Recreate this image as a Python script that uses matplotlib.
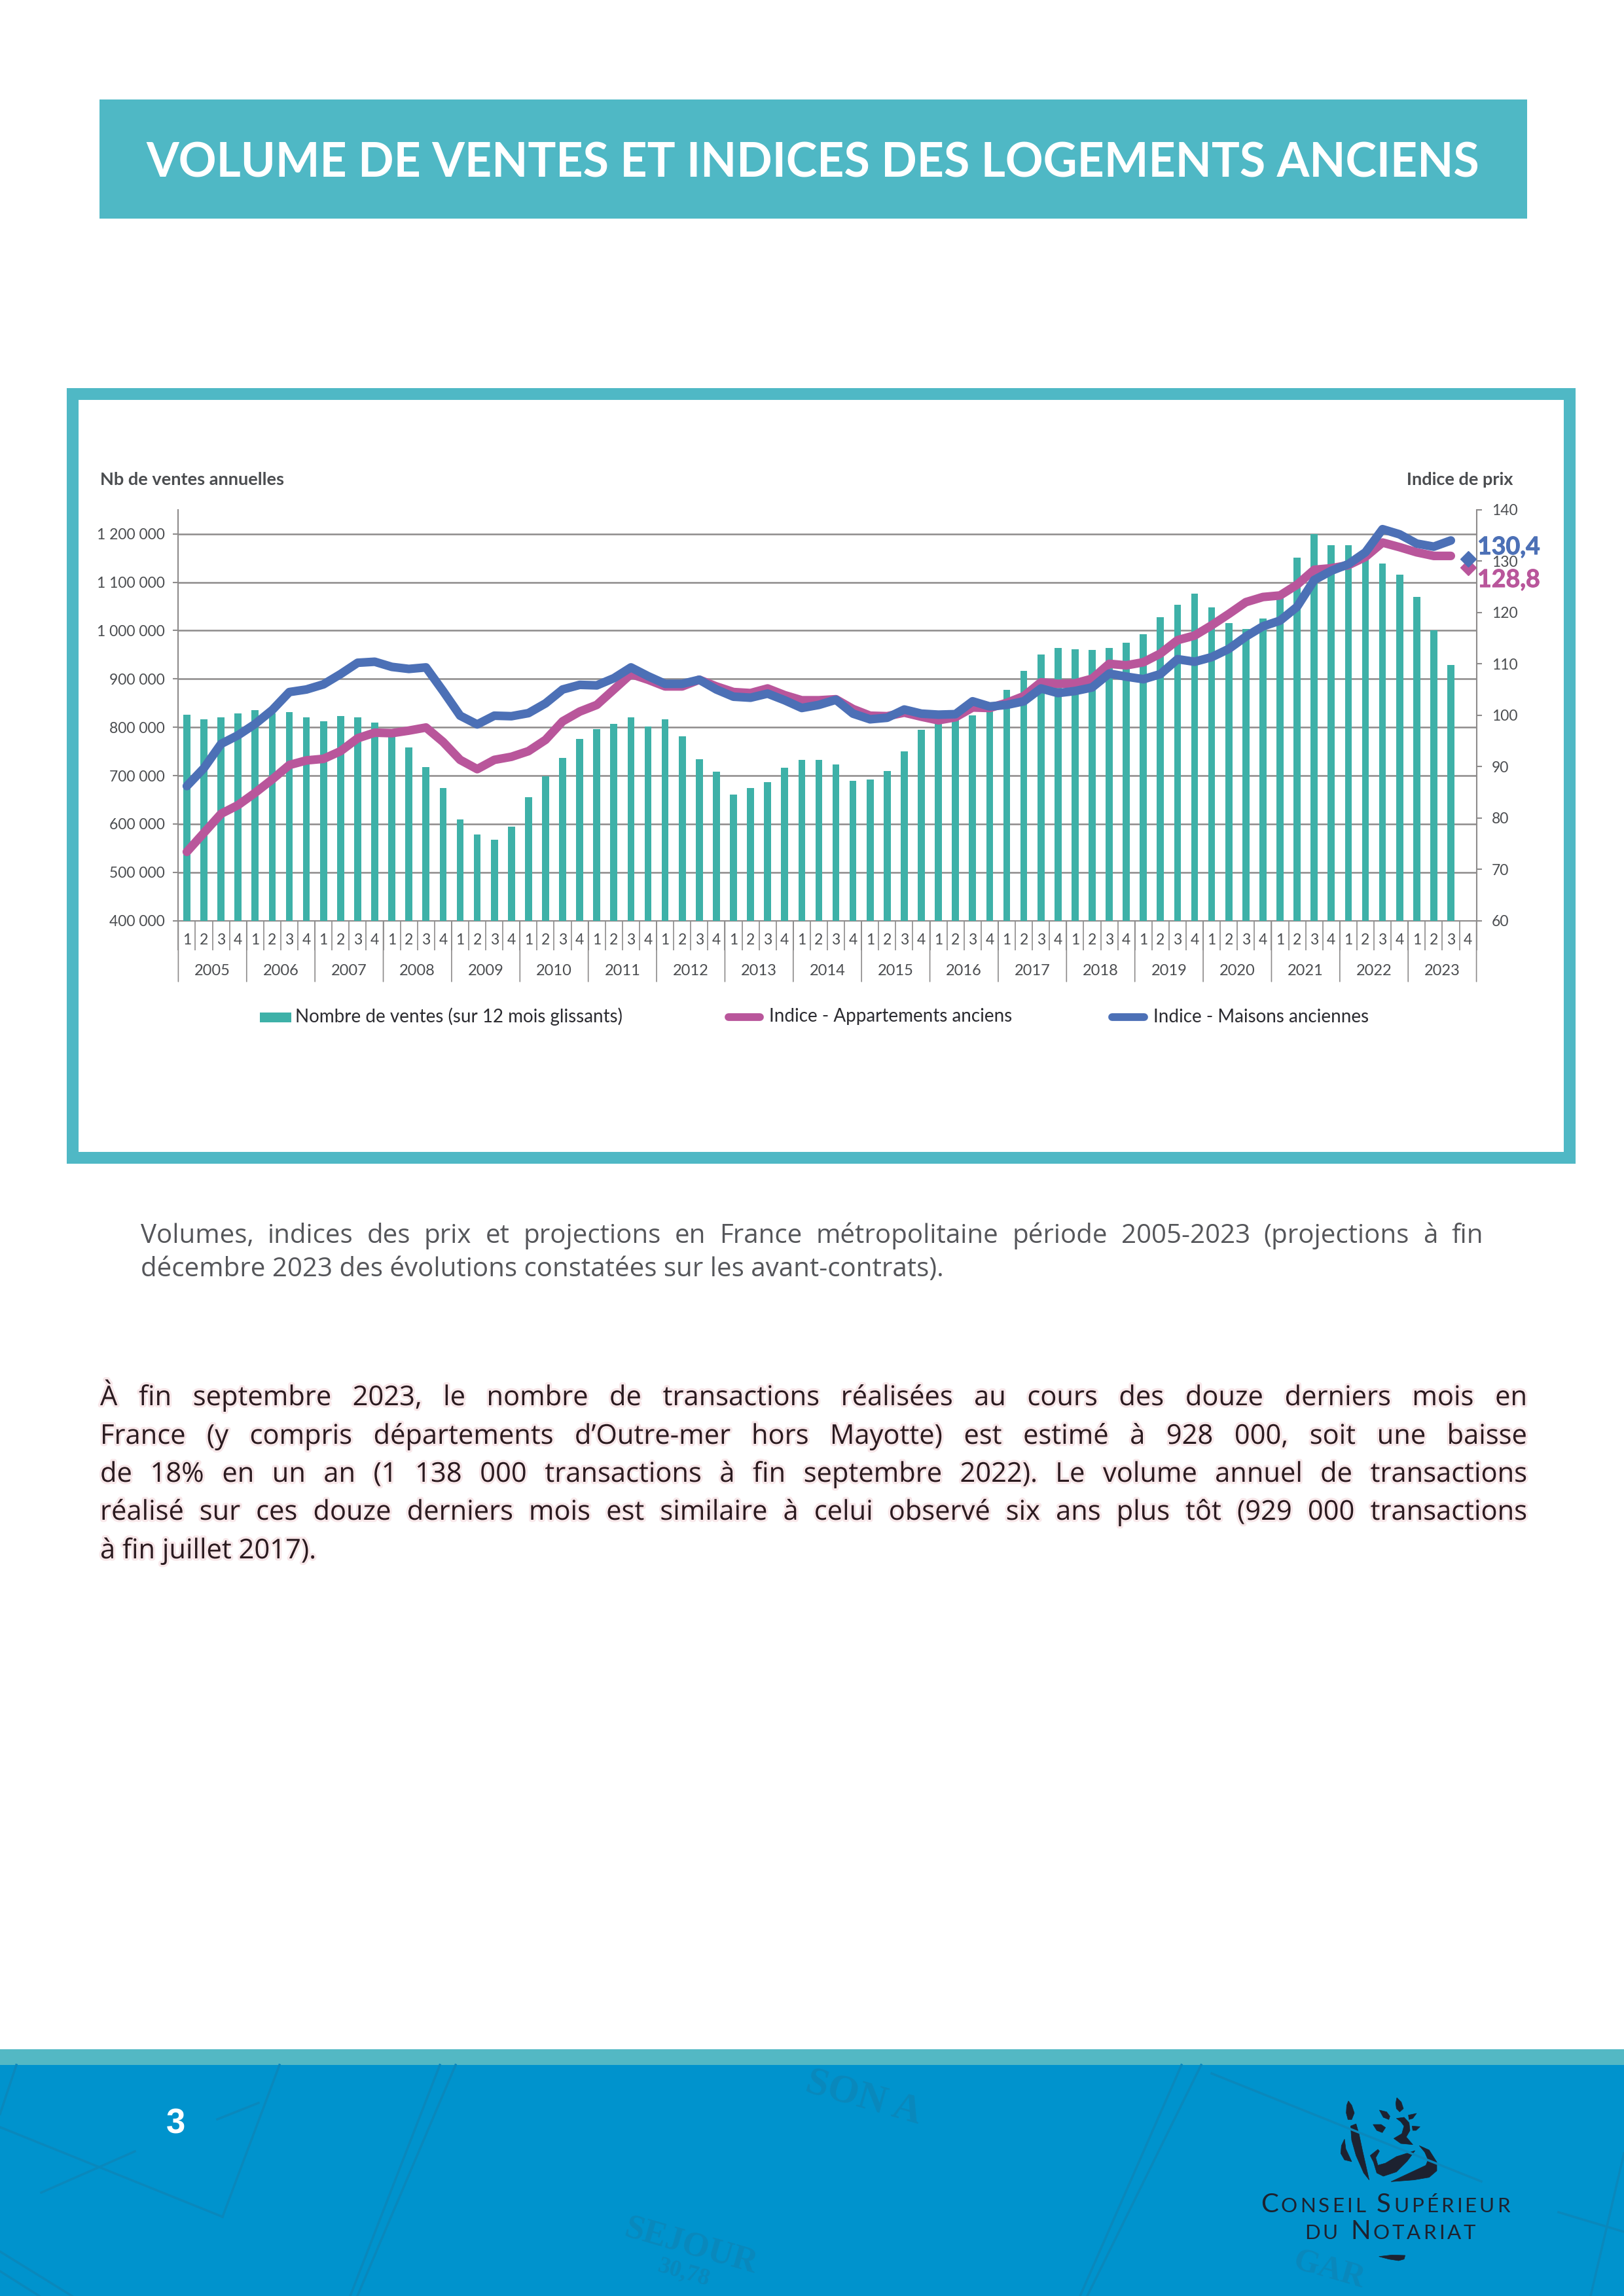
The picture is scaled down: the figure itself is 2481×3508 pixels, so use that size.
import numpy as np
import matplotlib
matplotlib.use('Agg')
import matplotlib.pyplot as plt
import matplotlib.patheffects as pe
from matplotlib.patches import Rectangle, Polygon

plt.rcParams['font.family'] = ['Lato', 'DejaVu Sans']

# Data
years = list(range(2005, 2024))
quarters = ['1', '2', '3', '4']

# 12 month rolling sales, one value per quarter (2023 Q4 missing)
ventes = [826, 817, 821, 829, 835, 828, 832, 821, 813, 823, 821, 810,
          790, 758, 717, 674, 610, 578, 568, 595, 656, 699, 737, 776,
          796, 807, 821, 801, 817, 781, 734, 708, 661, 674, 687, 716,
          733, 733, 723, 689, 692, 710, 750, 795, 807, 817, 824, 840,
          877, 917, 950, 964, 961, 960, 964, 975, 992, 1027, 1054, 1077,
          1048, 1015, 1003, 1025, 1069, 1151, 1200, 1176, 1177, 1151, 1139, 1115,
          1070, 1001, 929]

indice_appart = [73.4, 77.1, 80.8, 82.5, 84.9, 87.5, 90.3, 91.2, 91.5, 93.0, 95.5, 96.6,
                 96.5, 97.0, 97.6, 94.8, 91.3, 89.5, 91.3, 91.9, 93.0, 95.2, 98.8, 100.7,
                 102.0, 105.0, 108.0, 106.9, 105.6, 105.6, 106.9, 105.6, 104.5, 104.3, 105.2, 103.9,
                 102.9, 102.9, 103.1, 101.2, 99.9, 99.8, 100.5, 99.7, 99.0, 99.6, 101.5, 101.4,
                 102.4, 103.7, 106.4, 106.1, 106.2, 107.1, 110.0, 109.7, 110.3, 112.0, 114.6, 115.5,
                 117.5, 119.7, 122.0, 123.0, 123.3, 125.4, 128.3, 128.6, 129.2, 130.8, 133.6, 132.7,
                 131.7, 131.0, 131.0]

indice_maisons = [86.2, 89.7, 94.4, 96.1, 98.3, 101.0, 104.5, 105.0, 106.0, 108.0, 110.2, 110.4,
                  109.4, 109.0, 109.3, 104.7, 99.9, 98.2, 99.9, 99.8, 100.4, 102.3, 105.0, 105.9,
                  105.8, 107.2, 109.3, 107.6, 106.1, 106.1, 106.9, 105.0, 103.6, 103.4, 104.2, 102.9,
                  101.4, 102.0, 103.0, 100.3, 99.2, 99.5, 101.1, 100.3, 100.1, 100.2, 102.7, 101.7,
                  102.0, 102.7, 105.2, 104.3, 104.7, 105.4, 108.1, 107.5, 107.0, 108.0, 110.9, 110.4,
                  111.3, 112.9, 115.3, 117.3, 118.4, 121.1, 126.3, 128.1, 129.4, 131.7, 136.2, 135.2,
                  133.4, 132.8, 134.0]

projection_maisons = 130.4
projection_appart = 128.8

left_ticks = [400, 500, 600, 700, 800, 900, 1000, 1100, 1200]
left_labels = ['400 000', '500 000', '600 000', '700 000', '800 000', '900 000',
               '1 000 000', '1 100 000', '1 200 000']
right_ticks = [60, 70, 80, 90, 100, 110, 120, 130, 140]

titre = 'VOLUME DE VENTES ET INDICES DES LOGEMENTS ANCIENS'
legende = ['Nombre de ventes (sur 12 mois glissants)', 'Indice - Appartements anciens',
           'Indice - Maisons anciennes']
legende_source = ['Volumes, indices des prix et projections en France métropolitaine période 2005-2023 (projections à fin',
                  'décembre 2023 des évolutions constatées sur les avant-contrats).']
paragraphe = ['À fin septembre 2023, le nombre de transactions réalisées au cours des douze derniers mois en',
              'France (y compris départements d’Outre-mer hors Mayotte) est estimé à 928 000, soit une baisse',
              'de 18% en un an (1 138 000 transactions à fin septembre 2022). Le volume annuel de transactions',
              'réalisé sur ces douze derniers mois est similaire à celui observé six ans plus tôt (929 000 transactions',
              'à fin juillet 2017).']

TEAL = '#3eb1a8'
BLUE = '#4c70b6'
PINK = '#b9569b'
FRAME = '#4fb8c5'
GRID = '#8d8b8b'
LABEL = '#4b4d50'

W, H = 2481, 3508
fig = plt.figure(figsize=(W / 100, H / 100), dpi=100, facecolor='white')

# page background axes, one unit = one pixel
bg = fig.add_axes([0, 0, 1, 1])
bg.set_xlim(0, W)
bg.set_ylim(H, 0)
bg.axis('off')
renderer = fig.canvas.get_renderer()


def text_width(s, **kw):
    t = bg.text(0, 0, s, **kw)
    w = t.get_window_extent(renderer).width
    t.remove()
    return w


def justified(line, x0, x1, y, **kw):
    words = line.split(' ')
    widths = [text_width(w, **kw) for w in words]
    gap = (x1 - x0 - sum(widths)) / (len(words) - 1)
    x = x0
    for word, w in zip(words, widths):
        bg.text(x, y, word, ha='left', va='baseline', **kw)
        x += w + gap


def small_caps(x, y, parts, big, small, track=4, **kw):
    # one letter at a time so the tracking can be opened up
    for s, is_big in parts:
        fs = big if is_big else small
        for letter in s:
            bg.text(x, y, letter, fontsize=fs, ha='left', va='baseline', **kw)
            x += text_width(letter, fontsize=fs, **kw) + track


# header band
bg.add_patch(Rectangle((152, 152), 2181, 182, color=FRAME, lw=0))
bg.text(1242, 250, titre, color='white', fontsize=51.6, fontweight='bold', ha='center', va='center')

# chart frame
bg.add_patch(Rectangle((111, 602), 2287, 1167, fc='white', ec=FRAME, lw=13))

bg.text(153, 733, 'Nb de ventes annuelles', color=LABEL, fontsize=19.5, fontweight='bold', va='center')
bg.text(2311, 733, 'Indice de prix', color=LABEL, fontsize=19.5, fontweight='bold', va='center', ha='right')

# main chart
x_left, x_right = 272.4, 2255.6
y_top, y_bottom = 778.7, 1406.7
ax = fig.add_axes([x_left / W, 1 - y_bottom / H, (x_right - x_left) / W, (y_bottom - y_top) / H])
x = np.arange(len(ventes))
ax.bar(x, ventes, width=0.41, color=TEAL, zorder=3)
ax.set_xlim(-0.5, 75.5)
ax.set_ylim(400, 1250)
ax.set_yticks(left_ticks)
ax.set_yticklabels(left_labels, fontsize=16.5, color=LABEL)
ax.tick_params(axis='y', length=6, width=1.5, color=GRID, pad=9)
ax.yaxis.grid(True, color=GRID, lw=1.8)
ax.set_axisbelow(True)
for side in ['top', 'right']:
    ax.spines[side].set_visible(False)
for side in ['left', 'bottom']:
    ax.spines[side].set_color(GRID)
    ax.spines[side].set_linewidth(1.5)

# two level x axis: quarters then years
n_q = 76
ax.set_xticks(np.arange(n_q + 1) - 0.5)
ax.set_xticklabels([])
ax.tick_params(axis='x', which='major', length=32.5, width=1.2, color=GRID)
ax.set_xticks(np.arange(n_q), minor=True)
ax.set_xticklabels(quarters * len(years), minor=True, fontsize=16.5, color=LABEL)
ax.tick_params(axis='x', which='minor', length=0, pad=14)
for i, year in enumerate(years):
    ax.annotate(str(year), xy=(4 * i + 1.5, 0), xycoords=('data', 'axes fraction'),
                xytext=(0, -55.5), textcoords='offset points', ha='center', va='center',
                fontsize=17, color=LABEL)
    ax.annotate('', xy=(4 * i - 0.5, 0), xycoords=('data', 'axes fraction'),
                xytext=(0, -67), textcoords='offset points',
                arrowprops=dict(arrowstyle='-', color=GRID, lw=1.2, shrinkA=0, shrinkB=0))
ax.annotate('', xy=(75.5, 0), xycoords=('data', 'axes fraction'),
            xytext=(0, -67), textcoords='offset points',
            arrowprops=dict(arrowstyle='-', color=GRID, lw=1.2, shrinkA=0, shrinkB=0))

# price indices on the right axis
ax2 = ax.twinx()
ax2.set_ylim(60, 140)
ax2.set_yticks(right_ticks)
ax2.set_yticklabels([str(v) for v in right_ticks], fontsize=16.5, color=LABEL)
ax2.tick_params(axis='y', length=6, width=1.5, color=GRID, pad=11)
for side in ['top', 'left', 'bottom']:
    ax2.spines[side].set_visible(False)
ax2.spines['right'].set_color(GRID)
ax2.spines['right'].set_linewidth(1.5)
ax2.plot(x, indice_appart, color=PINK, lw=9.5, solid_joinstyle='round', solid_capstyle='round', zorder=4)
ax2.plot(x, indice_maisons, color=BLUE, lw=9.5, solid_joinstyle='round', solid_capstyle='round', zorder=5)
ax2.plot([75], [projection_appart], marker='D', ms=12, color=PINK, clip_on=False, zorder=6)
ax2.plot([75], [projection_maisons], marker='D', ms=12, color=BLUE, clip_on=False, zorder=7)

bg.set_zorder(-1)

# value labels, above the chart axes
over = fig.add_axes([0, 0, 1, 1], facecolor='none')
over.set_xlim(0, W)
over.set_ylim(H, 0)
over.axis('off')
for txt, yy, col in [('130,4', 836, BLUE), ('128,8', 886, PINK)]:
    over.text(2257, yy, txt, color=col, fontsize=27, fontweight='bold', va='center',
              path_effects=[pe.withStroke(linewidth=0.7, foreground=col)])

# legend
leg_y = 1553.5
bg.add_patch(Rectangle((397, leg_y - 7), 48, 15, color=TEAL, lw=0))
bg.text(451, leg_y, legende[0], fontsize=20, color='#2b2b30', va='center')
bg.plot([1113, 1161], [leg_y, leg_y], color=PINK, lw=8.5, solid_capstyle='round')
bg.text(1175, leg_y, legende[1], fontsize=20, color='#2b2b30', va='center')
bg.plot([1699, 1748], [leg_y, leg_y], color=BLUE, lw=8.5, solid_capstyle='round')
bg.text(1762, leg_y, legende[2], fontsize=20, color='#2b2b30', va='center')

# caption under the chart
cap = dict(fontsize=29, color='#55565a', family=['Open Sans', 'DejaVu Sans'])
justified(legende_source[0], 215, 2266, 1899, **cap)
bg.text(215, 1950, legende_source[1], va='baseline', **cap)

# body paragraph with a soft pink halo
halo = [pe.withStroke(linewidth=5, foreground='#f8e8ea')]
body = dict(fontsize=30, color='#2a1a1f', family=['Open Sans', 'DejaVu Sans'], path_effects=halo)
baselines = [2147, 2206, 2264, 2322, 2381]
for i, line in enumerate(paragraphe[:-1]):
    justified(line, 153, 2333, baselines[i], **body)
bg.text(153, baselines[-1], paragraphe[-1], va='baseline', **body)

# footer
bg.add_patch(Rectangle((0, 3131), W, 24, color='#53b8c4', lw=0))
bg.add_patch(Rectangle((0, 3155), W, H - 3155, color='#0093cd', lw=0))
wm = '#0a88bc'
for x0, y0, x1, y1 in [(696, 3155, 546, 3508), (672, 3155, 535, 3508), (1835, 3155, 1661, 3508),
                       (1805, 3155, 1650, 3508), (427, 3155, 340, 3387), (0, 3250, 340, 3387),
                       (206, 3287, 63, 3350), (395, 3213, 332, 3238), (1851, 3168, 2263, 3333),
                       (2381, 3380, 2481, 3410), (2481, 3290, 2430, 3508), (25, 3155, 0, 3230),
                       (0, 3440, 110, 3508), (0, 3470, 60, 3508)]:
    bg.plot([x0, x1], [y0, y1], color=wm, lw=2.5)
for s, tx, ty, fs in [('SON A', 1320, 3205, 44), ('SEJOUR', 1055, 3432, 38), ('30,78', 1045, 3472, 26),
                      ('GAR', 2030, 3468, 36)]:
    bg.text(tx, ty, s, color=wm, fontsize=fs, rotation=-16, ha='center', va='center',
            family='Liberation Serif', fontweight='bold')

bg.text(268, 3245, '3', color='white', fontsize=38, fontweight='bold', family='Liberation Sans',
        ha='center', va='center')

# logo, outlines traced in 3x crop coordinates
LOGO = '#1d2230'
shapes = [
    [(630, 90), (645, 110), (657, 145), (645, 175), (628, 175), (620, 145), (622, 110)],
    [(640, 205), (665, 195), (678, 240), (695, 320), (725, 452), (700, 420), (665, 340), (645, 270)],
    [(612, 265), (618, 310), (645, 368), (612, 360), (595, 330), (598, 295)],
    [(852, 75), (872, 95), (882, 125), (865, 140), (850, 125), (847, 100)],
    [(772, 132), (805, 140), (820, 160), (815, 175), (790, 165)],
    [(905, 155), (942, 147), (925, 170), (908, 175)],
    [(743, 198), (780, 198), (800, 212), (785, 235), (760, 225)],
    [(922, 205), (958, 208), (940, 225), (925, 225)],
    [(850, 170), (885, 165), (908, 190), (912, 225), (895, 255), (925, 290), (870, 285), (838, 262),
     (875, 240), (885, 205), (870, 185)],
    [(730, 340), (765, 312), (772, 320), (755, 350), (765, 385), (800, 375), (850, 345), (935, 318),
     (900, 365), (850, 415), (790, 435), (760, 420), (745, 370)],
    [(955, 295), (1000, 315), (1035, 370), (1035, 410), (1000, 440), (930, 452), (825, 460),
     (900, 425), (985, 385), (995, 360), (980, 325)],
    [(770, 803), (830, 796), (890, 798), (885, 815), (860, 822), (815, 815)],
]
for pts in shapes:
    bg.add_patch(Polygon([(1850 + px / 3, 3180 + py / 3) for px, py in pts], closed=True, fc=LOGO, ec=LOGO, lw=0.5))

small_caps(1926, 3380, [('C', 1), ('ONSEIL', 0)], 29, 22.5, color=LOGO)
small_caps(2103, 3380, [('S', 1), ('UPÉRIEUR', 0)], 29, 22.5, color=LOGO)
small_caps(1993, 3421, [('DU', 0)], 29, 22.5, color=LOGO)
small_caps(2063, 3421, [('N', 1), ('OTARIAT', 0)], 29, 22.5, color=LOGO)

fig.savefig('out.png', dpi=100)
